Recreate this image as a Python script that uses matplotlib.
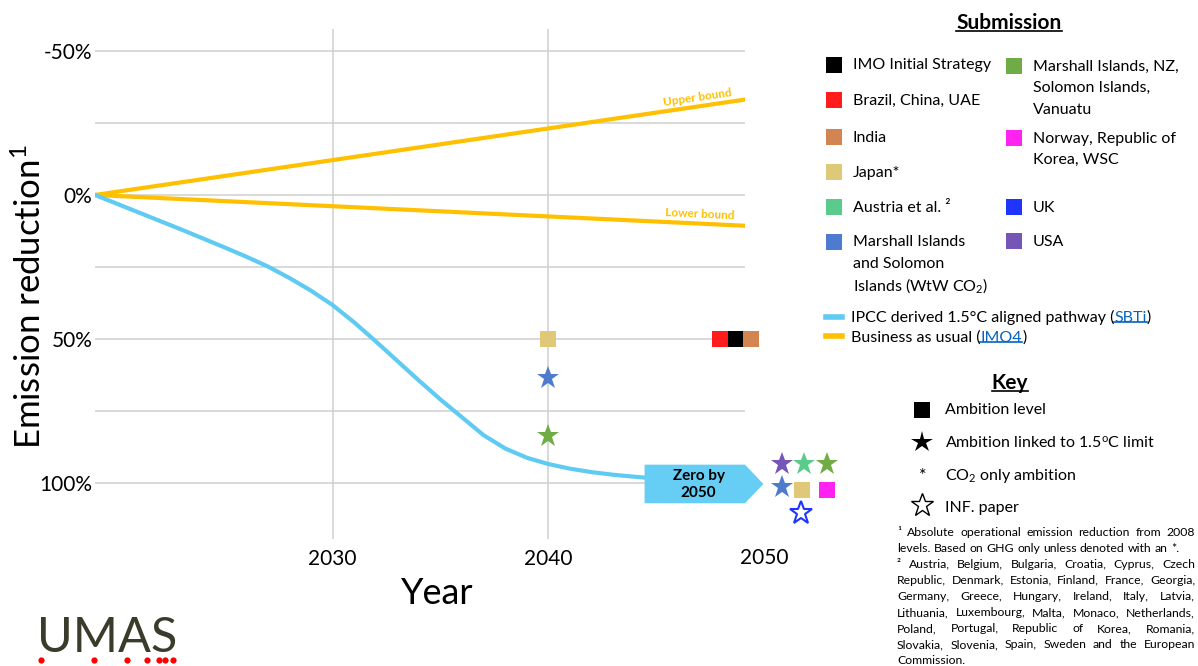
import matplotlib
matplotlib.use('Agg')
import matplotlib.pyplot as plt
from matplotlib.lines import Line2D
from matplotlib.patches import Polygon

plt.rcParams['font.family'] = ['Lato', 'DejaVu Sans']
plt.rcParams['mathtext.fontset'] = 'custom'
plt.rcParams['mathtext.rm'] = 'Lato'
plt.rcParams['mathtext.it'] = 'Lato:italic'
plt.rcParams['mathtext.bf'] = 'Lato:bold'

W, H = 1198, 666

# pathways (emission reduction in %, positive = reduction)
years = list(range(2019, 2051))
ipcc = [0, 3.0, 6.0, 9.0, 12.0, 15.1, 18.2, 21.4, 24.8, 28.8, 33.2, 38.2, 44.2, 50.8,
        57.6, 64.4, 71.0, 77.2, 83.4, 88.0, 91.2, 93.4, 95.0, 96.2, 97.1, 97.8, 98.4,
        98.9, 99.3, 99.6, 99.8, 100.0]
bau_years = [2019, 2050]
bau_upper = [0, -34.1]
bau_lower = [0, 11.0]

# submission colours
c_imo = '#000000'
c_brazil = '#FF1C1C'
c_india = '#D38451'
c_japan = '#E0C879'
c_austria = '#5BCB8C'
c_mi_wtw = '#4F7BCF'
c_mi_nz = '#6FAC46'
c_norway = '#FF22F0'
c_uk = '#1F35FF'
c_usa = '#7556B8'

# ambition level (squares)
sq_years = [2040, 2047.95, 2048.7, 2049.4, 2051.75, 2052.9]
sq_vals = [50, 50, 50, 50, 102.4, 102.4]
sq_colors = [c_japan, c_brazil, c_imo, c_india, c_japan, c_norway]

# ambition linked to 1.5C (filled stars)
star_years = [2040, 2040, 2050.8, 2051.85, 2052.9, 2050.8]
star_vals = [63.5, 83.7, 93.5, 93.5, 93.5, 101.3]
star_colors = [c_mi_wtw, c_mi_nz, c_usa, c_austria, c_mi_nz, c_mi_wtw]

# INF. paper (open star)
inf_years = [2051.7]
inf_vals = [110.5]
inf_colors = [c_uk]

blue = '#5FCBF3'
yellow = '#FFC000'
grid_c = '#D0D0D0'

fig = plt.figure(figsize=(W / 100, H / 100), dpi=100)
renderer = fig.canvas.get_renderer()

ax = fig.add_axes([95 / W, 1 - 539 / H, 650 / W, 510 / H])
ax.plot(bau_years, bau_upper, color=yellow, lw=3, zorder=3)
ax.plot(bau_years, bau_lower, color=yellow, lw=3, zorder=3)
ax.plot(years, ipcc, color=blue, lw=3, zorder=3, solid_joinstyle='round')

ax.set_xlim(2019, 2049.1)
ax.set_ylim(119.4, -57.6)
ax.set_xticks([2030, 2040])
ax.set_xticklabels(['2030', '2040'])
ax.set_yticks([-50, -25, 0, 25, 50, 75, 100])
ax.set_yticklabels(['-50%', '', '0%', '', '50%', '', '100%'])
ax.tick_params(length=0, labelsize=15, colors='black')
ax.tick_params(axis='x', pad=7)
ax.tick_params(axis='y', pad=2)
ax.grid(True, color=grid_c, lw=1.1)
ax.set_axisbelow(True)
for s in ax.spines.values():
    s.set_visible(False)
ax.text(2050, -9 / 510, '2050', transform=ax.get_xaxis_transform(), ha='center', va='top',
        fontsize=15, clip_on=False)

ax.set_xlabel('Year', fontsize=26)
ax.xaxis.set_label_coords((437 - 95) / 650, (539 - 593) / 510)
ax.xaxis.label.set_va('center')
ax.set_ylabel('Emission reduction$^1$', fontsize=25)
ax.yaxis.set_label_coords((30 - 95) / 650, (539 - 297) / 510)
ax.yaxis.label.set_va('center')

ax.text(2046.9, -33.7, 'Upper bound', color=yellow, fontsize=8.5, fontweight='bold',
        rotation=8.3, ha='center', va='center', rotation_mode='anchor')
ax.text(2047.0, 6.6, 'Lower bound', color=yellow, fontsize=8.5, fontweight='bold',
        rotation=-2.7, ha='center', va='center', rotation_mode='anchor')

# zero by 2050 arrow
ax_x0, ax_x1, ax_tip = 2044.45, 2049.1, 2049.95
ax_top, ax_bot = 93.6, 107.0
arrow = Polygon([(ax_x0, ax_top), (ax_x1, ax_top), (ax_tip, (ax_top + ax_bot) / 2),
                 (ax_x1, ax_bot), (ax_x0, ax_bot)], closed=True, facecolor='#66CDF4',
                edgecolor='none', zorder=4, clip_on=False)
ax.add_patch(arrow)
ax.text(2046.95, 100.6, 'Zero by\n2050', ha='center', va='center', fontsize=11,
        fontweight='bold', linespacing=1.3, zorder=5, clip_on=False)

for x, y, c in zip(sq_years, sq_vals, sq_colors):
    ax.plot([x], [y], marker='s', ms=12, color=c, mew=0, ls='none', zorder=6, clip_on=False)
for x, y, c in zip(star_years, star_vals, star_colors):
    ax.plot([x], [y], marker='*', ms=17, color=c, mew=0, ls='none', zorder=6, clip_on=False)
for x, y, c in zip(inf_years, inf_vals, inf_colors):
    ax.plot([x], [y], marker='*', ms=17, mfc='white', mec=c, mew=1.5, ls='none', zorder=6,
            clip_on=False)


# ---- helpers for the side panel (pixel positions from the top-left)
def ftext(x, y, s, **kw):
    kw.setdefault('va', 'center')
    return fig.text(x / W, 1 - y / H, s, **kw)


def fmark(x, y, **kw):
    fig.add_artist(Line2D([x / W], [1 - y / H], ls='none', transform=fig.transFigure, **kw))


def underline(t, color, off=2):
    bb = t.get_window_extent(renderer)
    yy = (bb.y0 + off) / H
    fig.add_artist(Line2D([bb.x0 / W, bb.x1 / W], [yy, yy], color=color, lw=1.2,
                          transform=fig.transFigure))


def chain(x, y, pieces, size):
    for s, color, ul in pieces:
        t = ftext(x, y, s, color=color, fontsize=size, ha='left')
        bb = t.get_window_extent(renderer)
        if ul:
            underline(t, color, off=3)
        x = bb.x1


def justify(line, y, x0, x1, size, last=False):
    words = line.split(' ')
    texts = [ftext(0, y, w, fontsize=size, ha='left') for w in words]
    widths = [t.get_window_extent(renderer).width for t in texts]
    if last or len(words) == 1:
        gap = size * 0.26 * 100 / 72
    else:
        gap = (x1 - x0 - sum(widths)) / (len(words) - 1)
    x = x0
    for t, wd in zip(texts, widths):
        t.set_x(x / W)
        x += wd + gap


leg_size = 11.5

t = ftext(1009, 23, 'Submission', fontsize=15, fontweight='bold', ha='center')
underline(t, 'black')

col1 = [(c_imo, 65, ['IMO Initial Strategy']),
        (c_brazil, 100, ['Brazil, China, UAE']),
        (c_india, 137, ['India']),
        (c_japan, 172, ['Japan*']),
        (c_austria, 207, ['Austria et al. ²']),
        (c_mi_wtw, 242, ['Marshall Islands', 'and Solomon', 'Islands (WtW CO$_2$)'])]
col2 = [(c_mi_nz, 66, ['Marshall Islands, NZ,', 'Solomon Islands,', 'Vanuatu']),
        (c_norway, 138, ['Norway, Republic of', 'Korea, WSC']),
        (c_uk, 207, ['UK']),
        (c_usa, 241, ['USA'])]
for sx, tx, rows in [(834, 853, col1), (1014.5, 1033, col2)]:
    for c, y, lines in rows:
        fmark(sx, y - 0.5, marker='s', ms=12, color=c, mew=0)
        for i, s in enumerate(lines):
            ftext(tx, y + 0.5 + i * 21.7, s, fontsize=leg_size, ha='left')

fig.add_artist(Line2D([826 / W, 842 / W], [1 - 317 / H] * 2, color=blue, lw=4,
                      transform=fig.transFigure))
fig.add_artist(Line2D([826 / W, 842 / W], [1 - 336 / H] * 2, color=yellow, lw=4,
                      transform=fig.transFigure))
link = '#0563C1'
chain(851, 317.5, [('IPCC derived 1.5°C aligned pathway (', 'black', False),
                   ('SBTi', link, True), (')', 'black', False)], leg_size)
chain(851, 337.5, [('Business as usual (', 'black', False),
                   ('IMO4', link, True), (')', 'black', False)], leg_size)

# key
t = ftext(1010, 383, 'Key', fontsize=15, fontweight='bold', ha='center')
underline(t, 'black')
fmark(922, 409.5, marker='s', ms=12, color='black', mew=0)
ftext(945, 410.5, 'Ambition level', fontsize=leg_size, ha='left')
fmark(921.7, 441.5, marker='*', ms=16, color='black', mew=0)
ftext(945, 442.5, 'Ambition linked to 1.5$^\\mathrm{o}$C limit', fontsize=leg_size, ha='left')
ftext(922.5, 476, '*', fontsize=13, ha='center')
ftext(945, 476, 'CO$_2$ only ambition', fontsize=leg_size, ha='left')
fmark(921.7, 505, marker='*', ms=17, mfc='white', mec='black', mew=1)
ftext(945, 508, 'INF. paper', fontsize=leg_size, ha='left')

notes = ['¹ Absolute operational emission reduction from 2008',
         'levels. Based on GHG only unless denoted with an *.',
         '² Austria, Belgium, Bulgaria, Croatia, Cyprus, Czech',
         'Republic, Denmark, Estonia, Finland, France, Georgia,',
         'Germany, Greece, Hungary, Ireland, Italy, Latvia,',
         'Lithuania, Luxembourg, Malta, Monaco, Netherlands,',
         'Poland, Portugal, Republic of Korea, Romania,',
         'Slovakia, Slovenia, Spain, Sweden and the European',
         'Commission.']
for i, line in enumerate(notes):
    justify(line, 532 + i * 16.1, 897, 1195, 8.8, last=(i in (1, len(notes) - 1)))

# logo
ftext(37, 652, 'UMAS', fontsize=35, color='#3B3B2B', ha='left', va='baseline')
for dx in [41, 94, 127, 147, 159, 165, 173]:
    fmark(dx, 660, marker='o', ms=4.5, color='#FF0000', mew=0)

fig.savefig('out.png', dpi=100)
